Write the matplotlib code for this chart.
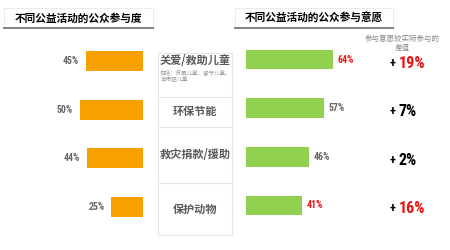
"""Public-welfare participation vs. willingness chart (two mirrored bar panels)."""

import matplotlib
matplotlib.use("Agg")
import matplotlib.pyplot as plt
from matplotlib.patches import Rectangle
from matplotlib import font_manager
from matplotlib.font_manager import FontProperties

CJK = ["Noto Sans CJK SC", "DejaVu Sans"]
plt.rcParams["font.family"] = CJK


def condensed_bold():
    """Pick a narrow bold face for the figures, if one is installed."""
    fl = font_manager.fontManager.ttflist
    for name in ("Roboto Condensed", "Liberation Sans Narrow", "Open Sans Condensed"):
        for f in fl:
            if f.name == name and f.weight in (700, "bold") and f.style == "normal":
                return f.fname
    for f in fl:
        if "Condensed-Bold" in f.fname and "Oblique" not in f.fname:
            return f.fname
    return None


NUM_PATH = condensed_bold()


def numfont(size):
    if NUM_PATH:
        return FontProperties(fname=NUM_PATH, size=size)
    return FontProperties(family="DejaVu Sans", weight="bold", size=size * 0.8)


# data
categories = ["关爱/救助儿童", "环保节能", "救灾捐款/援助", "保护动物"]
category_note = "包括：贫困儿童、留守儿童、\n自闭症儿童"
actual = [45, 50, 44, 25]          # 不同公益活动的公众参与度
willing = [64, 57, 46, 41]         # 不同公益活动的公众参与意愿
willing_red = [True, False, False, True]
diff_red = [True, False, False, True]

title_left = "不同公益活动的公众参与度"
title_right = "不同公益活动的公众参与意愿"
diff_header = "参与意愿较实际参与的\n差值"

ORANGE = "#F7A000"
GREEN = "#92D050"
RED = "#F01010"
GRAY = "#666666"

W, H = 450, 250
fig = plt.figure(figsize=(4.5, 2.5), dpi=100)


def fx(x):
    return x / W


def fy(y):
    return 1 - y / H


def axes_px(x0, y0, w, h):
    return fig.add_axes([fx(x0), fy(y0 + h), w / W, h / H])


ypos = list(range(len(categories)))
row_top, row_bot = 36.7, 231.3

# left panel: actual participation, bars grow leftwards
axl = axes_px(16, row_top, 127, row_bot - row_top)
axl.barh(ypos, actual, height=0.41, color=ORANGE)
axl.set_xlim(100, 0)
axl.set_ylim(3.5, -0.5)
for y, v in zip(ypos, actual):
    axl.annotate(f"{v}%", (v, y), xytext=(-5, 0), textcoords="offset points",
                 ha="right", va="center", color=GRAY, fontproperties=numfont(7))
axl.axis("off")

# right panel: willingness
axr = axes_px(246, row_top - 1.5, 136, row_bot - row_top)
axr.barh(ypos, willing, height=0.41, color=GREEN)
axr.set_xlim(0, 100)
axr.set_ylim(3.5, -0.5)
for y, v, red in zip(ypos, willing, willing_red):
    axr.annotate(f"{v}%", (v, y), xytext=(3.5, 0), textcoords="offset points",
                 ha="left", va="center", color=RED if red else GRAY,
                 fontproperties=numfont(7))
axr.axis("off")

# difference column (sits a few pixels below the bar centres)
fig.text(fx(402), fy(43.5), diff_header, ha="center", va="center", fontsize=5.4,
         color="#888888", linespacing=1.1)
for y, a, w, red in zip(ypos, actual, willing, diff_red):
    yy = axr.transData.transform((0, y))[1] / H - 3.5 / H
    fig.text(fx(395.5), yy, "+", ha="right", va="center", color="black",
             fontproperties=numfont(9))
    fig.text(fx(398.5), yy, f"{w - a}%", ha="left", va="center",
             color=RED if red else "black", fontproperties=numfont(11.5))

# middle category table
bounds = [53, 97, 127, 183, 235]
tx0, tx1 = 158, 232
for b in bounds:
    fig.add_artist(plt.Line2D([fx(tx0), fx(tx1)], [fy(b), fy(b)], color="#e6e6e6", lw=0.8))
for x in (tx0, tx1):
    fig.add_artist(plt.Line2D([fx(x), fx(x)], [fy(bounds[0]), fy(bounds[-1])],
                              color="#e6e6e6", lw=0.8))
for i, cat in enumerate(categories):
    if i == 0:
        fig.text(fx(195), fy(61), cat, ha="center", va="center", fontsize=8,
                 fontweight="bold", color="#595959")
        fig.text(fx(160), fy(76), category_note, ha="left", va="center",
                 fontsize=4.0, color="#999999", linespacing=1.15)
    else:
        mid = (bounds[i] + bounds[i + 1]) / 2
        fig.text(fx(195), fy(mid), cat, ha="center", va="center", fontsize=8,
                 fontweight="bold", color="#595959")

# title boxes
for x0, x1, title in ((4, 153, title_left), (235, 393, title_right)):
    fig.add_artist(Rectangle((fx(x0), fy(27)), (x1 - x0) / W, 19 / H,
                             transform=fig.transFigure, facecolor="white",
                             edgecolor="#e8e8e8", lw=0.6))
    fig.add_artist(plt.Line2D([fx(x0), fx(x1)], [fy(27.5), fy(27.5)],
                              color="#808080", lw=1.4))
    fig.text(fx((x0 + x1) / 2), fy(18), title, ha="center", va="center",
             fontsize=7.7, fontweight="bold", color="black")

fig.savefig("out.png", dpi=100)
